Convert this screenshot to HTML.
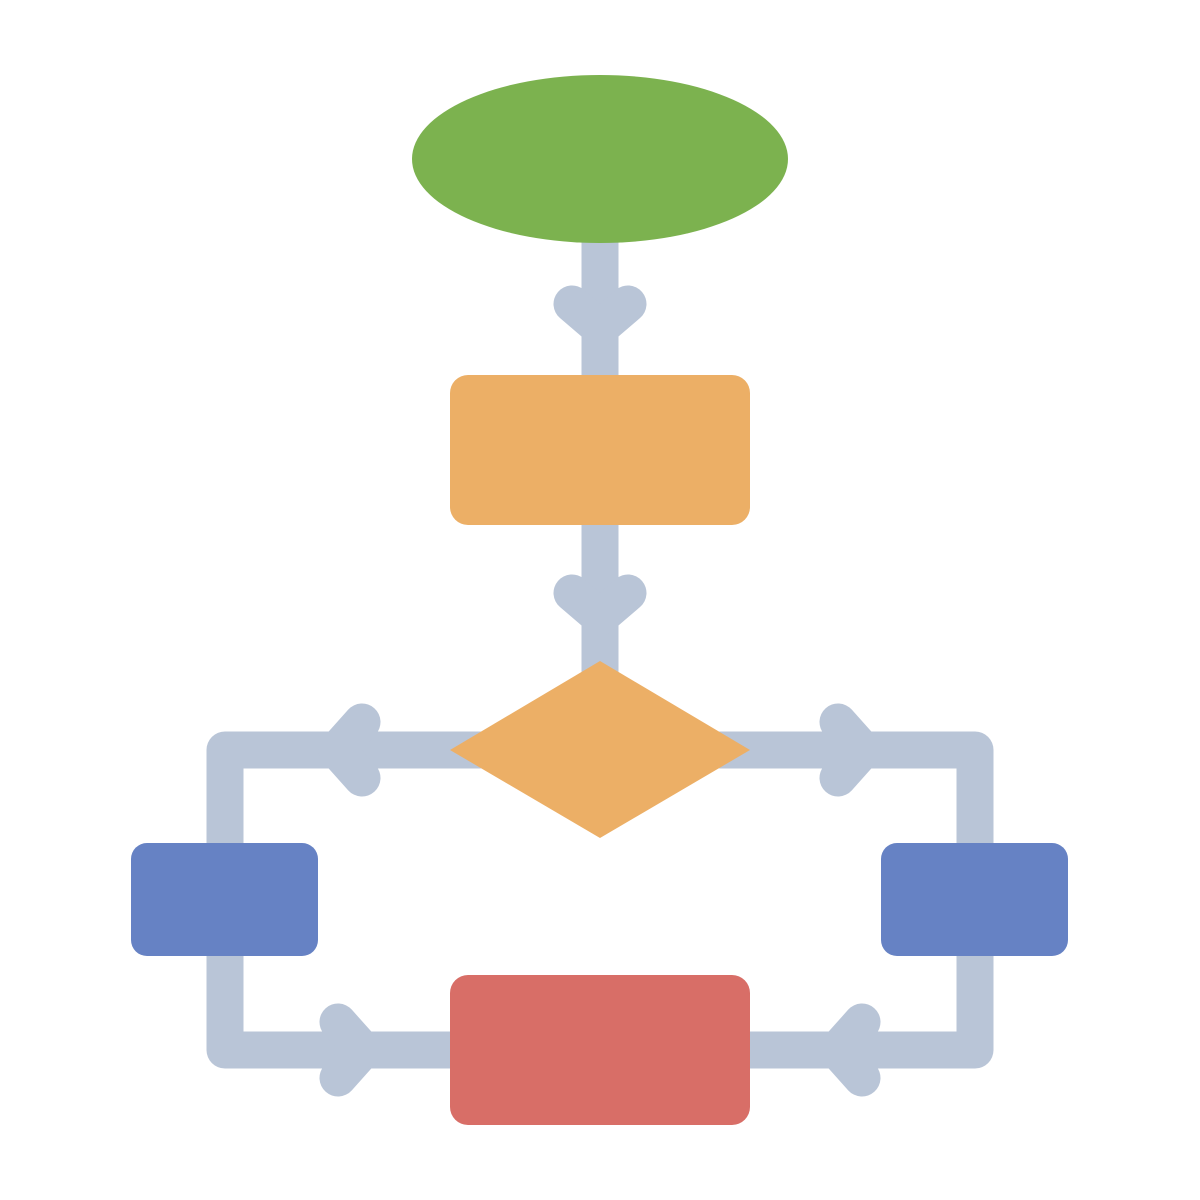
<!DOCTYPE html>
<html><head><meta charset="utf-8"><style>html,body{margin:0;padding:0;background:#fff}svg{display:block}</style></head>
<body>
<svg width="1200" height="1200" viewBox="0 0 1200 1200" xmlns="http://www.w3.org/2000/svg">
<g fill="none" stroke="#b9c5d7" stroke-width="37" stroke-linecap="round" stroke-linejoin="round">
  <line x1="600" y1="230" x2="600" y2="380" stroke-linecap="butt"/>
  <line x1="600" y1="520" x2="600" y2="690" stroke-linecap="butt"/>
  <polyline points="572,304 600,328 628,304"/>
  <polyline points="572,593 600,617 628,593"/>
  <polyline points="480,750 225,750 225,1050 460,1050"/>
  <polyline points="720,750 975,750 975,1050 740,1050"/>
  <polyline points="362,722 337,750 362,778"/>
  <polyline points="838,722 863,750 838,778"/>
  <polyline points="338,1022 363,1050 338,1078"/>
  <polyline points="862,1022 837,1050 862,1078"/>
</g>
<ellipse cx="600" cy="159" rx="188" ry="84" fill="#7cb24f"/>
<rect x="450" y="375" width="300" height="150" rx="18" fill="#ecaf66"/>
<polygon points="600,661 750,750 600,838 450,750" fill="#ecaf66"/>
<rect x="131" y="843" width="187" height="113" rx="16" fill="#6682c4"/>
<rect x="881" y="843" width="187" height="113" rx="16" fill="#6682c4"/>
<rect x="450" y="975" width="300" height="150" rx="18" fill="#d86e67"/>
</svg>
</body></html>
